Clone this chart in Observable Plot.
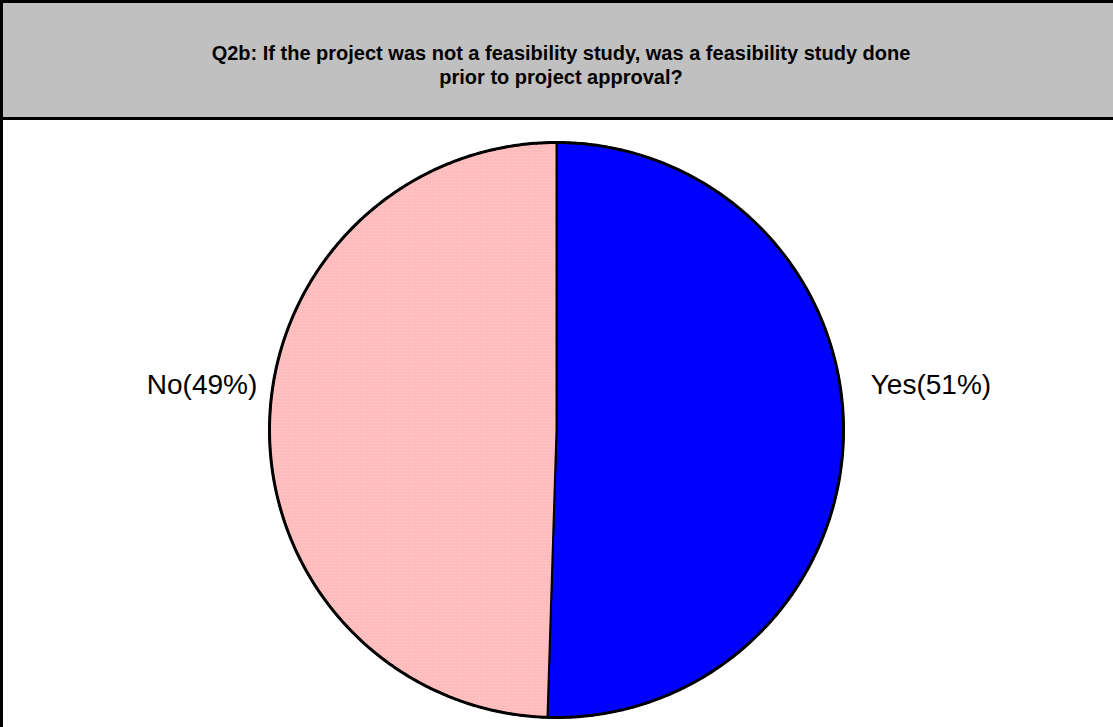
<!DOCTYPE html>
<html>
<head>
<meta charset="utf-8">
<script src="https://cdn.jsdelivr.net/npm/d3@7"></script>
<script src="https://cdn.jsdelivr.net/npm/@observablehq/plot@0.6"></script>
<style>
  html, body { margin: 0; padding: 0; background: #fff; }
  #wrap { width: 1113px; height: 727px; overflow: hidden; font-family: "Liberation Sans", Arial, sans-serif; }
  #title {
    box-sizing: border-box; height: 120px; width: 1113px;
    background: #C0C0C0; border-top: 3px solid #000; border-left: 3px solid #000; border-bottom: 3px solid #000;
    display: flex; align-items: center; justify-content: center; text-align: center;
    font-weight: bold; font-size: 20px; line-height: 24px; color: #000; padding: 10px 0 0 6px;
  }
  #chart { box-sizing: border-box; width: 1113px; height: 607px; border-left: 3px solid #000; }
  #chart svg { display: block; }
</style>
</head>
<body>
<div id="wrap">
  <div id="title">Q2b: If the project was not a feasibility study, was a feasibility study done<br>prior to project approval?</div>
  <div id="chart"></div>
</div>
<script>
const categories = ["Yes", "No"];
const values = [50.5, 49.5];
const labels = ["Yes(51%)", "No(49%)"];
const fills = ["#0000FF", "url(#pinkPattern)"];

const total = d3.sum(values);
let acc = 0;
const slices = categories.map((c, i) => {
  const a0 = acc / total * 2 * Math.PI;
  acc += values[i];
  const a1 = acc / total * 2 * Math.PI;
  const pts = [{x: 0, y: 0}];
  const n = 360;
  for (let k = 0; k <= n; k++) {
    const a = a0 + (a1 - a0) * k / n;
    pts.push({x: Math.sin(a), y: Math.cos(a)});
  }
  pts.push({x: 0, y: 0});
  const am = (a0 + a1) / 2;
  return {cat: c, label: labels[i], fill: fills[i], pts, am};
});

const LR = 1.27;
const labelData = slices.map(s => ({label: s.label, x: LR * Math.sin(s.am), y: 0}));

const plot = Plot.plot({
  width: 1110,
  height: 607,
  marginLeft: 266,
  marginRight: 270,
  marginTop: 22,
  marginBottom: 10,
  x: {domain: [-1, 1], axis: null},
  y: {domain: [-1, 1], axis: null},
  style: {fontFamily: "Liberation Sans, Arial, sans-serif", background: "#fff"},
  marks: [
    ...slices.map(s => Plot.line(s.pts, {x: "x", y: "y", fill: s.fill, stroke: "#000", strokeWidth: 2, strokeLinejoin: "round"})),
    Plot.line(slices.flatMap(s => s.pts.slice(1, -1)), {x: "x", y: "y", stroke: "#000", strokeWidth: 3, fill: "none"}),
    Plot.text(labelData, {x: "x", y: "y", text: "label", fontSize: 28, fill: "#000", dx: 10, dy: -45, textAnchor: "middle"})
  ]
});

const ns = "http://www.w3.org/2000/svg";
const defs = document.createElementNS(ns, "defs");
defs.innerHTML = `<pattern id="pinkPattern" patternUnits="userSpaceOnUse" width="3" height="3">
  <rect width="3" height="3" fill="#FFC8C8"/>
  <rect width="3" height="1" fill="#FFB6B6"/>
  <rect width="1" height="3" fill="#FFB6B6"/>
</pattern>`;
plot.insertBefore(defs, plot.firstChild);
document.getElementById("chart").appendChild(plot);
</script>
</body>
</html>
